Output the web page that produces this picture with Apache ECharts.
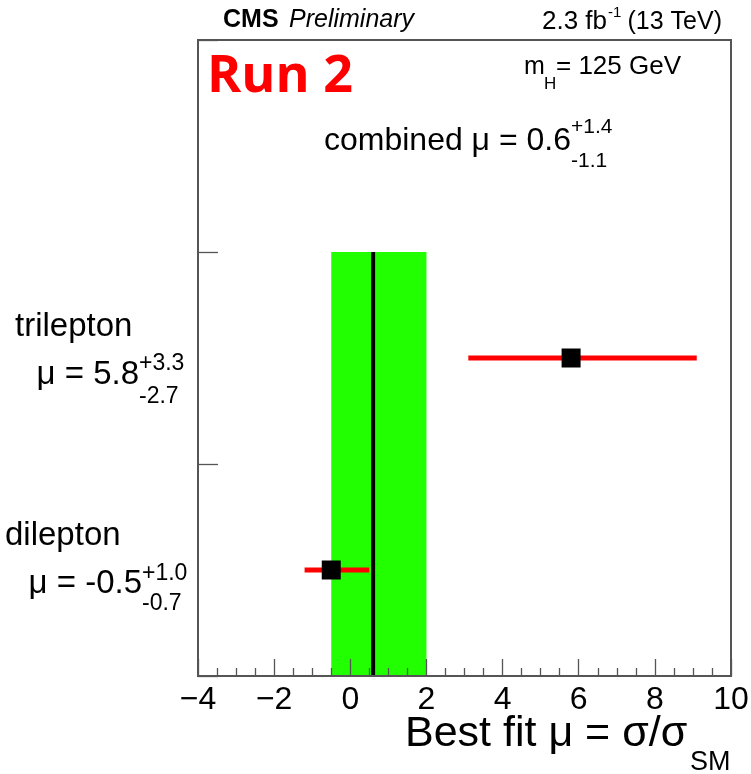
<!DOCTYPE html>
<html>
<head>
<meta charset="utf-8">
<script src="https://cdn.jsdelivr.net/npm/echarts@6/dist/echarts.min.js"></script>
<style>
  html, body { margin: 0; padding: 0; background: #fff; overflow: hidden; }
  #chart { width: 751px; height: 774px; }
</style>
</head>
<body>
<div id="chart"></div>
<script>
// Signal strength fits per channel
const channels = ['dilepton', 'trilepton'];
const channelRow = [0.5, 1.5];          // vertical slot of each channel
const channelMu = [-0.5, 5.8];
const channelErrUp = [1.0, 3.3];
const channelErrDn = [0.7, 2.7];

// Combined fit
const combinedMu = 0.6;
const combinedErrUp = 1.4;
const combinedErrDn = 1.1;
const combinedTop = 2;                  // height of the combined band

const xTicks = [-4, -2, 0, 2, 4, 6, 8, 10];

const fmt = v => v.toFixed(1);
const FONT = '"Liberation Sans", Arial, Helvetica, sans-serif';
const FRAME = '#555';

const chart = echarts.init(document.getElementById('chart'), null, { renderer: 'canvas' });

const bandSeries = {
  type: 'custom',
  z: 1,
  renderItem: function (params, api) {
    const p0 = api.coord([api.value(0), 0]);
    const p1 = api.coord([api.value(1), api.value(2)]);
    return {
      type: 'rect',
      shape: { x: p0[0], y: p1[1], width: p1[0] - p0[0], height: p0[1] - p1[1] },
      style: { fill: '#22ff00' }
    };
  },
  data: [[combinedMu - combinedErrDn, combinedMu + combinedErrUp, combinedTop]]
};

const centralLine = {
  type: 'line',
  z: 3,
  symbol: 'none',
  lineStyle: { color: '#000', width: 4 },
  data: [[combinedMu, 0], [combinedMu, combinedTop]]
};

const errorBars = channels.map((c, i) => ({
  type: 'line',
  z: 4,
  symbol: 'none',
  lineStyle: { color: '#ff0000', width: 5 },
  data: [[channelMu[i] - channelErrDn[i], channelRow[i]], [channelMu[i] + channelErrUp[i], channelRow[i]]]
}));

const points = {
  type: 'scatter',
  z: 5,
  symbol: 'rect',
  symbolSize: 19,
  itemStyle: { color: '#000', opacity: 1 },
  data: channels.map((c, i) => [channelMu[i], channelRow[i]])
};

function txt(x, y, text, font, extra) {
  return Object.assign({ type: 'text', x: x, y: y, style: Object.assign({ text: text, font: font, fill: '#000', verticalAlign: 'middle' }, extra || {}) });
}

// Value label: main part ends at x, exponent pair starts there
function valueLabel(x, y, main, up, dn, size, subSize, supY, subY) {
  return [
    txt(x, y, main, size + 'px ' + FONT, { align: 'right' }),
    txt(x, supY, up, subSize + 'px ' + FONT, { align: 'left' }),
    txt(x, subY, dn, subSize + 'px ' + FONT, { align: 'left' })
  ];
}

const graphics = [
  txt(223, 20, 'CMS', 'bold 25px ' + FONT),
  txt(289, 20, 'Preliminary', 'italic 25px ' + FONT),
  txt(607, 22, '2.3 fb', '26px ' + FONT, { align: 'right' }),
  txt(608, 13, '-1', '15px ' + FONT),
  txt(722, 22, '(13 TeV)', '25px ' + FONT, { align: 'right' }),
  txt(207, 77, 'Run 2', 'bold 52px "Open Sans", ' + FONT, { fill: '#ff0000' }),
  txt(524, 67, 'm', '25px ' + FONT),
  txt(544, 84, 'H', '17px ' + FONT),
  txt(556, 67, '= 125 GeV', '26px ' + FONT),
  txt(15, 327, channels[1], '33px ' + FONT),
  txt(5, 536, channels[0], '33px ' + FONT),
  txt(405, 734, 'Best fit \u03bc = \u03c3/\u03c3', '43px ' + FONT),
  txt(690, 763, 'SM', '27px ' + FONT)
]
  .concat(valueLabel(571, 141, 'combined \u03bc = ' + fmt(combinedMu), '+' + fmt(combinedErrUp), '-' + fmt(combinedErrDn), 32, 21, 127, 161))
  .concat(valueLabel(139, 375, '\u03bc = ' + fmt(channelMu[1]), '+' + fmt(channelErrUp[1]), '-' + fmt(channelErrDn[1]), 33, 23, 364, 397))
  .concat(valueLabel(142, 584, '\u03bc = ' + fmt(channelMu[0]), '+' + fmt(channelErrUp[0]), '-' + fmt(channelErrDn[0]), 33, 23, 574, 604));

chart.setOption({
  animation: false,
  backgroundColor: '#fff',
  grid: {
    left: 198, right: 20, top: 40, bottom: 98,
    outerBoundsMode: 'none', containLabel: false,
    show: true, borderColor: FRAME, borderWidth: 2, backgroundColor: 'transparent'
  },
  xAxis: {
    type: 'value',
    min: xTicks[0],
    max: xTicks[xTicks.length - 1],
    interval: 2,
    z: 6,
    axisLine: { show: true, onZero: false, lineStyle: { color: FRAME, width: 2 } },
    axisTick: { show: true, inside: true, length: 17, lineStyle: { color: FRAME, width: 1.3 } },
    minorTick: { show: true, splitNumber: 4, length: 8, lineStyle: { color: FRAME, width: 1.3 } },
    splitLine: { show: false },
    axisLabel: {
      color: '#000', fontSize: 32, fontFamily: FONT, margin: 8,
      formatter: v => String(v).replace('-', '\u2212')
    }
  },
  yAxis: {
    type: 'value',
    min: 0,
    max: 3,
    interval: 1,
    z: 6,
    axisLine: { show: true, onZero: false, lineStyle: { color: FRAME, width: 2 } },
    axisTick: { show: true, inside: true, length: 20, lineStyle: { color: FRAME, width: 1.3 } },
    axisLabel: { show: false },
    splitLine: { show: false }
  },
  series: [bandSeries, centralLine].concat(errorBars, [points]),
  graphic: graphics
});
</script>
</body>
</html>
